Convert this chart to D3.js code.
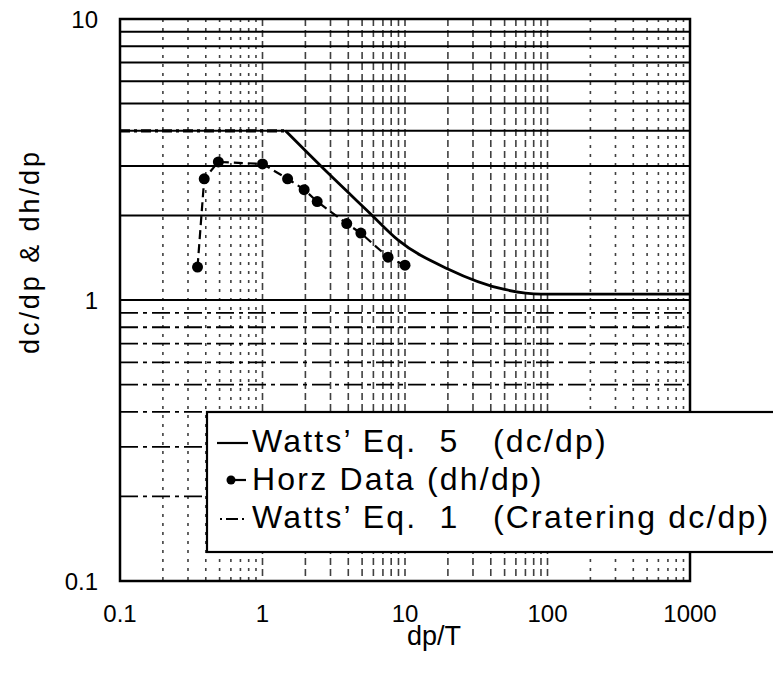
<!DOCTYPE html>
<html>
<head>
<meta charset="utf-8">
<title>dc/dp & dh/dp vs dp/T</title>
<script src="https://d3js.org/d3.v7.min.js"></script>
<style>
  body { margin: 0; background: #fff; }
  svg { display: block; font-family: "Liberation Sans", Arial, sans-serif; }
</style>
</head>
<body>
<div id="chart"></div>
<script>
// Watts' Eq. 5 (dc/dp) - solid curve
var eq5X = [1.45, 2.8, 5.6, 9, 20, 50, 90, 1000];
var eq5Y = [4.0, 2.87, 2.05, 1.63, 1.29, 1.09, 1.05, 1.05];

// Watts' Eq. 1 (Cratering dc/dp) - dash-dot flat line
var eq1X = [0.1, 1.45];
var eq1Y = [4.0, 4.0];

// Horz Data (dh/dp) - points
var horzX = [0.35, 0.39, 0.49, 1.0, 1.5, 1.96, 2.42, 3.9, 4.9, 7.6, 10.0];
var horzY = [1.31, 2.7, 3.1, 3.05, 2.7, 2.47, 2.24, 1.87, 1.73, 1.42, 1.33];

var xTicks = [0.1, 1, 10, 100, 1000];
var xTickLabels = ["0.1", "1", "10", "100", "1000"];
var yTicks = [0.1, 1, 10];
var yTickLabels = ["0.1", "1", "10"];

var legendLabels = ["Watts\u2019 Eq.  5   (dc/dp)", "Horz Data (dh/dp)", "Watts\u2019 Eq.  1   (Cratering dc/dp)"];

var W = 773, H = 681;
var svg = d3.select("#chart").append("svg").attr("width", W).attr("height", H);

var x = d3.scaleLog().domain([0.1, 1000]).range([120, 690]);
var y = d3.scaleLog().domain([0.1, 10]).range([581, 19]);

// grid values: every 1..9 step per decade
function decadeSteps(lo, hi) {
  var out = [];
  for (var e = lo; e < hi; e++) {
    for (var m = 1; m <= 9; m++) out.push(m * Math.pow(10, e));
  }
  return out;
}
var gx = decadeSteps(-1, 3).filter(function (v) { return v > 0.1; });
var gy = decadeSteps(-1, 1).filter(function (v) { return v > 0.1; });

// vertical grid
svg.append("g").selectAll("line").data(gx).enter().append("line")
  .attr("x1", function (d) { return x(d); })
  .attr("x2", function (d) { return x(d); })
  .attr("y1", y(10)).attr("y2", y(0.1))
  .attr("stroke", "#111")
  .attr("stroke-width", 1.6)
  .attr("stroke-dasharray", function (d) { return d < 1 || d > 100 ? "3,6" : "7,4"; })
  .attr("opacity", 0.8);

// horizontal grid
svg.append("g").selectAll("line").data(gy).enter().append("line")
  .attr("x1", x(0.1)).attr("x2", x(1000))
  .attr("y1", function (d) { return y(d); })
  .attr("y2", function (d) { return y(d); })
  .attr("stroke", "#000")
  .attr("stroke-width", function (d) { return d >= 1 ? 2 : 1.8; })
  .attr("stroke-dasharray", function (d) { return d >= 1 ? null : "18,5,4,5"; });

// frame
svg.append("rect")
  .attr("x", x(0.1)).attr("y", y(10))
  .attr("width", x(1000) - x(0.1)).attr("height", y(0.1) - y(10))
  .attr("fill", "none").attr("stroke", "#000").attr("stroke-width", 2.5);

var line = d3.line()
  .x(function (d) { return x(d[0]); })
  .y(function (d) { return y(d[1]); });

// Eq. 1 dash-dot
svg.append("path")
  .attr("d", line(d3.zip(eq1X, eq1Y)))
  .attr("fill", "none").attr("stroke", "#000")
  .attr("stroke-width", 3.2)
  .attr("stroke-dasharray", "10,4,3,4");

// Eq. 5 solid curve
svg.append("path")
  .attr("d", d3.line().curve(d3.curveMonotoneX)
    .x(function (d) { return x(d[0]); })
    .y(function (d) { return y(d[1]); })(d3.zip(eq5X, eq5Y)))
  .attr("fill", "none").attr("stroke", "#000").attr("stroke-width", 2.8);

// Horz data
var horz = d3.zip(horzX, horzY);
svg.append("path")
  .attr("d", line(horz))
  .attr("fill", "none").attr("stroke", "#000")
  .attr("stroke-width", 2.2)
  .attr("stroke-dasharray", "9,5");
svg.append("g").selectAll("circle").data(horz).enter().append("circle")
  .attr("cx", function (d) { return x(d[0]); })
  .attr("cy", function (d) { return y(d[1]); })
  .attr("r", 5.5)
  .attr("fill", "#000");

// tick labels
svg.append("g").selectAll("text").data(xTicks).enter().append("text")
  .attr("x", function (d) { return x(d); })
  .attr("y", 622)
  .attr("text-anchor", "middle")
  .attr("font-size", 24)
  .text(function (d, i) { return xTickLabels[i]; });

svg.append("g").selectAll("text").data(yTicks).enter().append("text")
  .attr("x", 98)
  .attr("y", function (d) { return y(d) + 9; })
  .attr("text-anchor", "end")
  .attr("font-size", 24)
  .text(function (d, i) { return yTickLabels[i]; });

// axis titles
svg.append("text")
  .attr("x", 434).attr("y", 645)
  .attr("text-anchor", "middle")
  .attr("font-size", 27)
  .text("dp/T");

svg.append("text")
  .attr("transform", "translate(39,253) rotate(-90)")
  .attr("text-anchor", "middle")
  .attr("font-size", 27)
  .attr("textLength", 202)
  .attr("lengthAdjust", "spacing")
  .text("dc/dp & dh/dp");

// legend
var lg = svg.append("g");
lg.append("rect")
  .attr("x", 207).attr("y", 412)
  .attr("width", 620).attr("height", 140)
  .attr("fill", "#fff").attr("stroke", "#000").attr("stroke-width", 2.2);

var rowY = [440, 478, 516];
lg.selectAll("text").data(legendLabels).enter().append("text")
  .attr("x", 252)
  .attr("y", function (d, i) { return rowY[i] + 12; })
  .attr("font-size", 32)
  .attr("letter-spacing", 2.2)
  .style("white-space", "pre")
  .text(function (d) { return d; });

lg.append("line")
  .attr("x1", 217).attr("x2", 248)
  .attr("y1", rowY[0] + 3).attr("y2", rowY[0] + 3)
  .attr("stroke", "#000").attr("stroke-width", 2.2);
lg.append("line")
  .attr("x1", 230).attr("x2", 246)
  .attr("y1", rowY[1] + 2).attr("y2", rowY[1] + 2)
  .attr("stroke", "#000").attr("stroke-width", 2.2);
lg.append("circle")
  .attr("cx", 231).attr("cy", rowY[1] + 2).attr("r", 4.5).attr("fill", "#000");
lg.append("line")
  .attr("x1", 220).attr("x2", 248)
  .attr("y1", rowY[2] + 3).attr("y2", rowY[2] + 3)
  .attr("stroke", "#000").attr("stroke-width", 1.8)
  .attr("stroke-dasharray", "2,4,12,4");
</script>
</body>
</html>
